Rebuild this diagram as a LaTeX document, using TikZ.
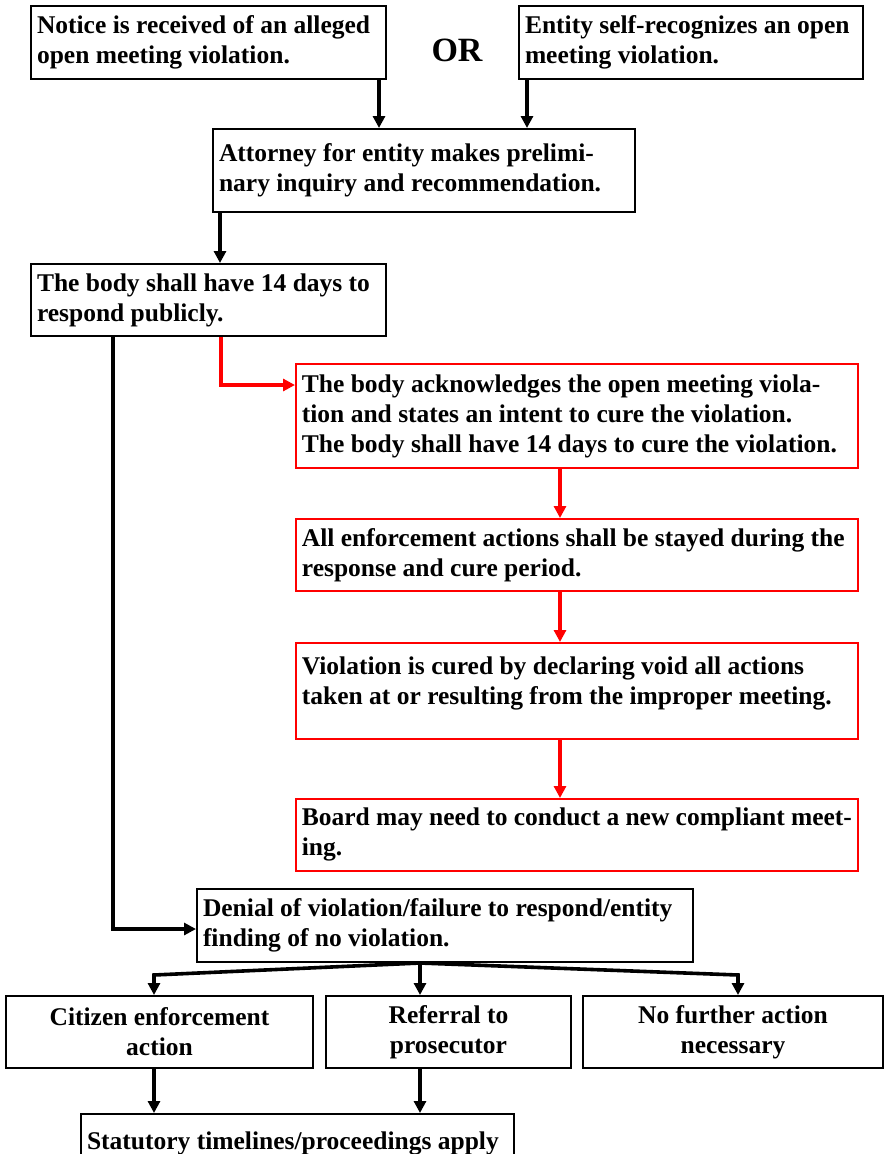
\documentclass[tikz,border=0pt]{standalone}
\usepackage{fontspec}
\setmainfont{Liberation Serif}
\usetikzlibrary{arrows.meta}
\definecolor{fcred}{RGB}{255,0,0}
\tikzset{
  every node/.style={font=\fontsize{25.5}{30}\selectfont\bfseries},
  bbox/.style={draw=black, line width=2pt, anchor=north west, inner sep=0pt, align=flush left},
  rbox/.style={draw=fcred, line width=1.8pt, anchor=north west, inner sep=0pt, align=flush left},
  cbox/.style={draw=black, line width=2pt, anchor=north west, inner sep=0pt, align=flush center},
  sz/.code 2 args={\pgfmathsetmacro\boxtw{#1-12}\edef\boxtmp{\noexpand\tikzset{minimum width=#1pt, minimum height=#2pt, text width=\boxtw pt}}\boxtmp},
  barrow/.style={draw=black, line width=3.6pt, -{Triangle[length=12pt,width=12pt]}},
  rarrow/.style={draw=fcred, line width=3.6pt, -{Triangle[length=12pt,width=12pt]}},
}
\begin{document}
\begin{tikzpicture}[x=1pt,y=-1pt]
\useasboundingbox (0,0) rectangle (886,1154);
\fill[white] (0,0) rectangle (886,1154);

\node[bbox, sz={355}{73}] (a) at (30,5) {Notice is received of an alleged\\open meeting violation.};
\node[font=\fontsize{34}{36}\selectfont\bfseries] (or) at (457,50) {OR};
\node[bbox, sz={344}{73}] (b) at (518,5) {Entity self-recognizes an open\\meeting violation.};
\node[bbox, sz={422}{83}] (c) at (212,128) {Attorney for entity makes prelimi-\\nary inquiry and recommendation.};
\node[bbox, sz={355}{72}] (d) at (30,263) {The body shall have 14 days to\\respond publicly.};

\node[rbox, sz={562}{104}] (e) at (295,363) {The body acknowledges the open meeting viola-\\tion and states an intent to cure the violation.\\The body shall have 14 days to cure the violation.};
\node[rbox, sz={562}{72}] (f) at (295,518) {All enforcement actions shall be stayed during the\\response and cure period.};
\node[rbox, sz={562}{96}] (g) at (295,642) {Violation is cured by declaring void all actions\\taken at or resulting from the improper meeting.\rule[-20pt]{0pt}{0pt}};
\node[rbox, sz={562}{72}] (h) at (295,798) {Board may need to conduct a new compliant meet-\\ing.};

\node[bbox, sz={496}{73}] (i) at (196,888) {Denial of violation/failure to respond/entity\\finding of no violation.};
\node[cbox, sz={307}{72}] (j) at (5,995) {Citizen enforcement\\action};
\node[cbox, sz={245}{72}] (k) at (325,995) {Referral to\\prosecutor};
\node[cbox, sz={300}{72}] (l) at (582,995) {No further action\\necessary};
\node[bbox, sz={433}{58}] (m) at (80,1113) {Statutory timelines/proceedings apply};

% top arrows
\draw[barrow] (a.south -| 379,0) -- (c.north -| 379,0);
\draw[barrow] (b.south -| 527,0) -- (c.north -| 527,0);
\draw[barrow] (c.south -| 220,0) -- (d.north -| 220,0);

% red branch
\draw[rarrow] (d.south -| 221,0) |- (e.west |- 0,385);
\draw[rarrow] (e.south -| 560,0) -- (f.north -| 560,0);
\draw[rarrow] (f.south -| 560,0) -- (g.north -| 560,0);
\draw[rarrow] (g.south -| 560,0) -- (h.north -| 560,0);

% black branch
\draw[barrow] (d.south -| 113,0) |- (i.west |- 0,929);

% splay
\coordinate (sl) at (154,975);
\coordinate (sr) at (738,975);
\draw[barrow] (i.south -| 420,0) -- (sl) -- (j.north -| sl);
\draw[barrow] (i.south -| 420,0) -- (k.north -| 420,0);
\draw[barrow] (i.south -| 420,0) -- (sr) -- (l.north -| sr);

% bottom
\draw[barrow] (j.south -| 154,0) -- (m.north -| 154,0);
\draw[barrow] (k.south -| 420,0) -- (m.north -| 420,0);
\end{tikzpicture}
\end{document}
